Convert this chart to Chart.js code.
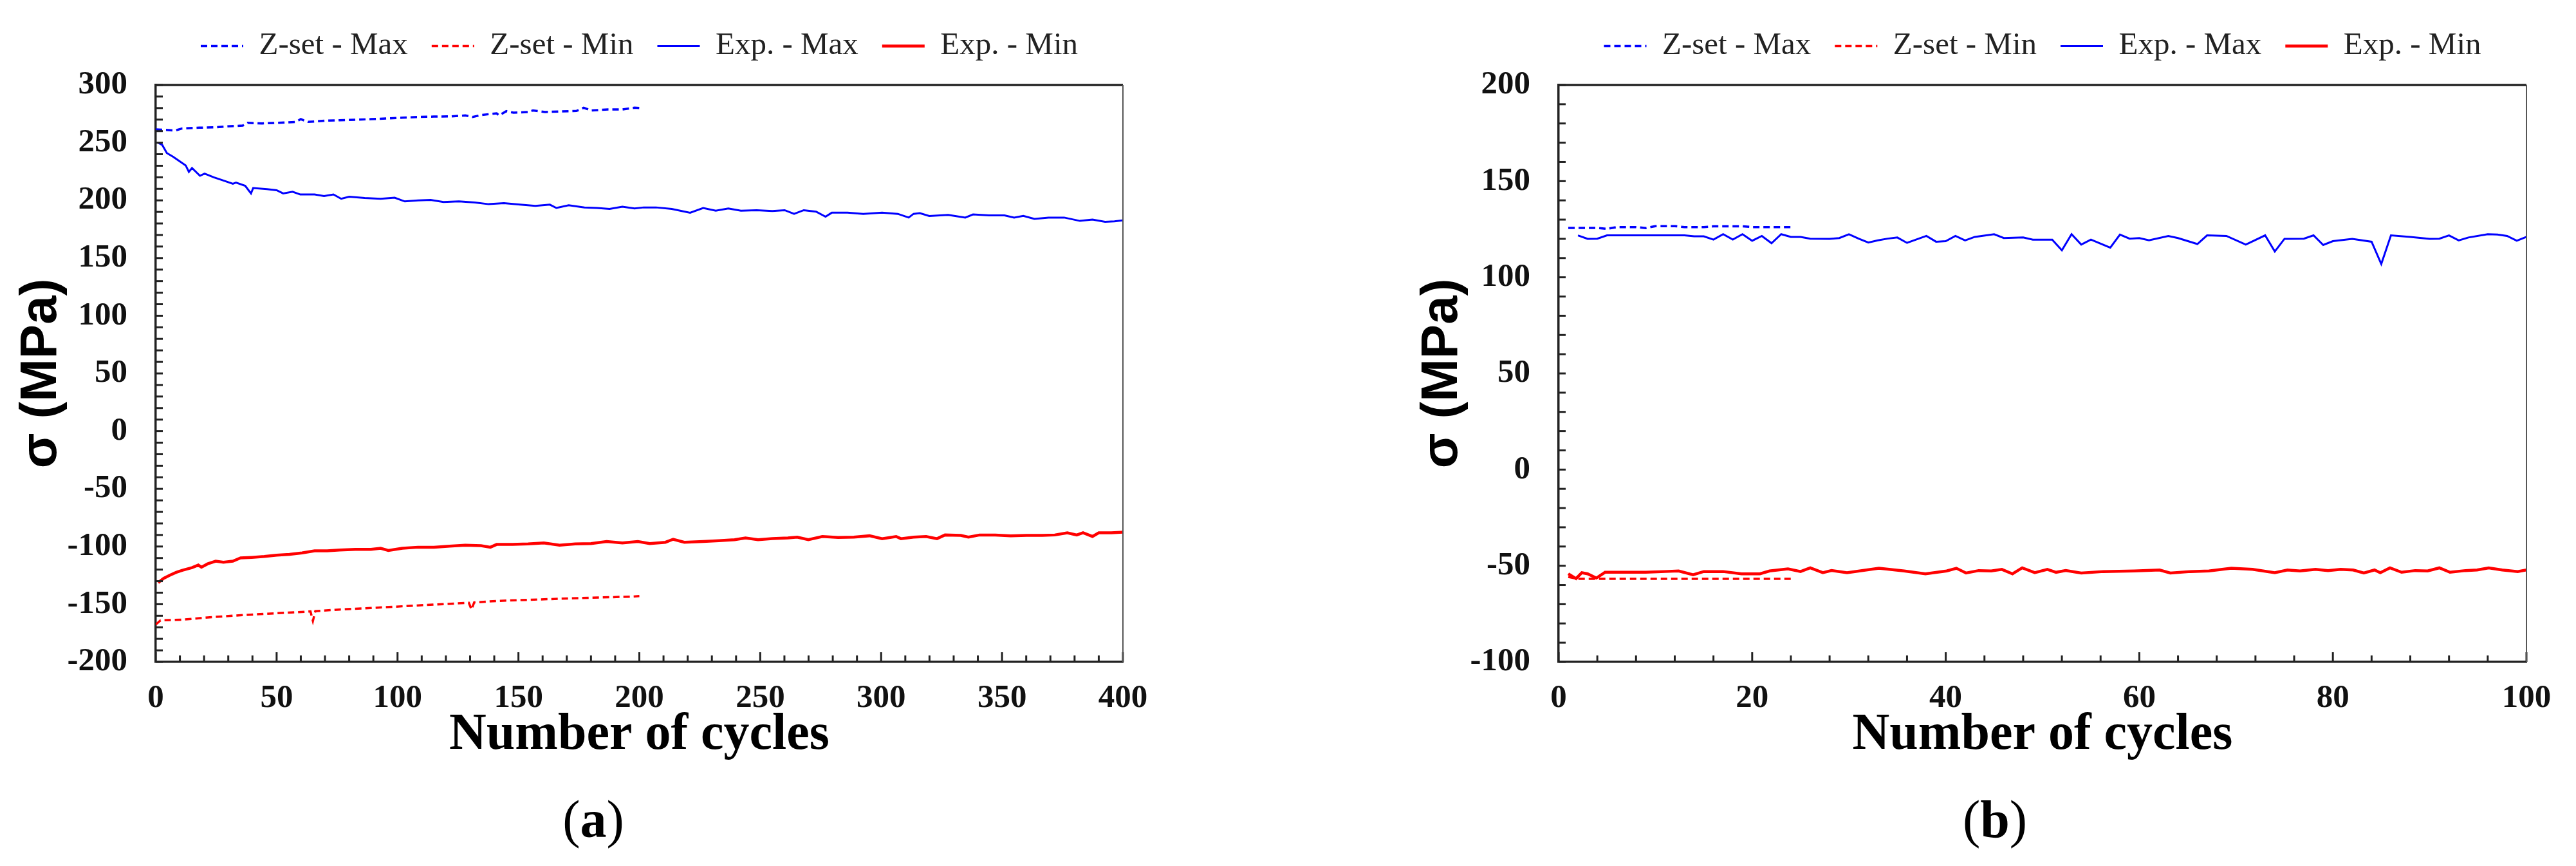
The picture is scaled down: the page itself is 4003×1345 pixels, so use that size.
<!DOCTYPE html>
<html>
<head>
<meta charset="utf-8">
<script src="https://cdn.jsdelivr.net/npm/chart.js@4.4.1/dist/chart.umd.min.js"></script>
<style>
  html, body { margin: 0; padding: 0; background: #fff; }
  body { width: 4003px; height: 1345px; position: relative; overflow: hidden; }
  canvas { position: absolute; top: 0; }
  #chartA { left: 0; }
  #chartB { left: 2000px; }
  .caption {
    position: absolute; top: 1232px;
    font: 82px 'Liberation Serif', serif; line-height: 1;
    transform: translateX(-50%); white-space: nowrap; color: #000;
  }
</style>
</head>
<body>
<canvas id="chartA" width="2000" height="1345"></canvas>
<canvas id="chartB" width="2003" height="1345"></canvas>
<div class="caption" style="left:922px">(<b>a</b>)</div>
<div class="caption" style="left:3100px">(<b>b</b>)</div>
<script>
// ---- (a) 400 cycles ----
const cyclesZsetMaxA = [0, 5, 8, 11, 18, 24, 31, 36, 38, 44, 50, 58, 60, 63, 70, 76, 83, 89, 96, 102, 109, 115, 122, 128, 131, 135, 141, 142, 145, 148, 154, 156, 161, 167, 174, 177, 180, 187, 193, 198, 200];
const zsetMaxA = [261.5, 261, 260.5, 262.4, 263, 263.3, 264.3, 264.8, 267.2, 266.7, 267.2, 268, 270.4, 268, 269, 269.5, 269.9, 270.4, 271, 271.7, 272.3, 272.6, 272.8, 273.6, 272.3, 274.1, 275.4, 273.6, 277.3, 276, 276.6, 277.9, 276.6, 277, 277.5, 280.3, 277.9, 278.8, 278.8, 280.3, 280];

const cyclesZsetMinA = [0, 2, 11, 24, 37, 50, 64, 65, 66, 76, 89, 102, 115, 129.5, 130.6, 131.7, 141, 154, 167, 180, 197, 200];
const zsetMinA = [-167.6, -164, -163.4, -161.1, -159.3, -157.8, -156.3, -164.5, -156, -154.6, -153.3, -151.8, -150.3, -148.8, -154.6, -148.5, -147.2, -146.2, -145.3, -144.4, -143.4, -143];

const cyclesExpMaxA = [1, 2.7, 4.6, 7.2, 9.8, 12.4, 13.7, 15, 18.3, 20.2, 24, 28, 31.9, 33.2, 37, 39.4, 40.3, 46, 50, 52.7, 56.6, 59.8, 65.7, 69.6, 73.5, 76.7, 80, 86.4, 93, 98.8, 103, 108.5, 113.7, 119, 125.4, 132, 137.7, 144, 150.7, 157, 163, 165.7, 170.8, 177.3, 182.5, 187.7, 193, 198, 201.8, 206.9, 213.4, 221, 226.4, 231.6, 236.8, 242, 248.5, 255, 260.1, 264, 268, 273.1, 277, 279.6, 286.1, 292.6, 300.4, 306.9, 311.4, 313.4, 316, 319.9, 327.7, 334.8, 338, 344.6, 351, 355, 358.8, 363.4, 369.2, 375.7, 382.2, 387.4, 392.6, 396.5, 400];
const expMaxA = [250, 248, 241, 237.8, 234, 230.3, 224.7, 228, 221.3, 223.2, 220, 217.2, 214.4, 215.4, 212.6, 206, 210.7, 209.8, 208.8, 206, 207.5, 205.1, 205.1, 203.8, 205.1, 201.4, 203.2, 202, 201.4, 202.3, 199.1, 200, 200.4, 198.6, 199.1, 198.2, 196.7, 197.6, 196.3, 195.2, 196.3, 193.4, 195.8, 193.9, 193.4, 192.6, 194.5, 193, 193.9, 193.9, 192.6, 189.3, 193.4, 191.1, 193, 191.1, 191.5, 190.7, 191.5, 188.3, 191.5, 190.2, 185.9, 189.3, 189.3, 188.3, 189.3, 188.3, 185.1, 188.3, 188.9, 186.5, 187.4, 185.1, 187.8, 187, 187, 185.1, 186.5, 184, 185.1, 185.1, 182.2, 183.3, 181.4, 181.8, 182.7];

const cyclesExpMinA = [1, 3.3, 5.9, 8.5, 11.1, 15, 17.6, 18.9, 21.5, 24.8, 28, 31.9, 35.1, 39.7, 44.9, 50, 55.3, 60.5, 65.7, 70.9, 76, 82.5, 89, 93, 96.2, 102, 108.5, 115, 121.5, 128, 134.5, 138.4, 141, 147.5, 154, 160.5, 167, 173.5, 180, 186.5, 193, 199.4, 204.3, 210.8, 214, 218.6, 226.4, 232.9, 239.4, 243.9, 249.1, 255, 261.4, 265.3, 269.9, 275.7, 282.2, 288.7, 295.2, 300.4, 306.2, 308.2, 313.4, 318.6, 323.1, 326.4, 332.9, 336.1, 340.7, 347.2, 353.6, 360.1, 366.6, 371.8, 377, 380.9, 383.5, 387.4, 390, 395.2, 400];
const expMinA = [-131.3, -127.6, -124.8, -122.4, -120.5, -118.3, -116.1, -117.9, -115, -112.7, -113.6, -112.7, -109.9, -109.4, -108.6, -107.5, -106.8, -105.6, -103.8, -103.8, -103, -102.5, -102.5, -101.5, -103.4, -101.5, -100.6, -100.6, -99.7, -98.8, -99.3, -100.6, -98.2, -98.2, -97.8, -96.9, -98.8, -97.8, -97.4, -95.6, -96.9, -95.6, -97.4, -96.3, -93.7, -96.3, -95.6, -95, -94.1, -92.6, -94.1, -93.2, -92.6, -91.9, -94.1, -91.3, -92.2, -91.9, -90.7, -93.2, -91.3, -93.2, -91.9, -91.3, -93.2, -90, -90.4, -91.9, -90, -90, -90.7, -90.4, -90.4, -90, -88.1, -90, -88.1, -91.3, -88.1, -88.1, -87.6];

const xTickLabelsA = [0, 50, 100, 150, 200, 250, 300, 350, 400];
const yTickLabelsA = [-200, -150, -100, -50, 0, 50, 100, 150, 200, 250, 300];

// ---- (b) 100 cycles ----
const cyclesZsetMaxB = [1, 2, 3, 4, 5, 6, 7, 8, 9, 10, 11, 12, 13, 14, 15, 16, 17, 18, 19, 20, 21, 22, 23, 24];
const zsetMaxB = [125.7, 125.7, 125.7, 125.7, 125.2, 126.1, 126.1, 126.1, 125.6, 126.6, 126.6, 126.6, 126.1, 126.1, 126.1, 126.5, 126.5, 126.5, 126.5, 126.1, 126.1, 126.1, 126.1, 126.1];

const cyclesZsetMinB = [1, 2, 3, 4, 5, 6, 7, 8, 9, 10, 11, 12, 13, 14, 15, 16, 17, 18, 19, 20, 21, 22, 23, 24];
const zsetMinB = [-55.8, -56.8, -56.8, -56.8, -56.8, -56.8, -56.8, -56.8, -56.8, -56.8, -56.8, -56.8, -56.8, -56.8, -56.8, -56.8, -56.8, -56.8, -56.8, -56.8, -56.8, -56.8, -56.8, -56.8];

const cyclesExpMaxB = [2, 3, 4, 5, 8, 13, 14, 15, 16, 17, 18, 19, 20, 21, 22, 23, 24, 25, 26, 28, 29, 30, 31, 32, 33, 34, 35, 36, 38, 39, 40, 41, 42, 43, 45, 46, 48, 49, 51, 52, 53, 54, 55, 57, 58, 59, 60, 61, 63, 64, 66, 67, 69, 71, 73, 74, 75, 77, 78, 79, 80, 82, 84, 85, 86, 88, 90, 91, 92, 93, 94, 96, 97, 98, 99, 100];
const expMaxB = [121.8, 120, 120.1, 121.8, 121.8, 121.8, 121.3, 121.3, 119.6, 122.4, 119.6, 122.4, 119, 121.5, 117.7, 122.4, 121, 121, 120.1, 120, 120.4, 122.4, 120.1, 118.1, 119.2, 120.1, 120.7, 117.9, 121.5, 118.5, 118.8, 121.5, 119.2, 121, 122.4, 120.4, 120.7, 119.6, 119.6, 114, 122.4, 117, 119.6, 115.4, 122.2, 120.1, 120.4, 119.2, 121.5, 120.4, 117.3, 121.8, 121.5, 117, 121.8, 113.4, 120, 120.1, 121.8, 116.8, 118.8, 120, 118.5, 106.9, 121.8, 121, 120, 120.1, 121.8, 119.2, 120.7, 122.4, 122.2, 121.5, 119, 121];

const cyclesExpMinB = [1, 1.8, 2.4, 3, 3.9, 4.8, 7, 9, 11, 12.4, 13.9, 15, 17, 18.9, 20.8, 21.8, 23.7, 25, 26, 27.3, 28.2, 29.8, 33.1, 35.7, 37.9, 40.1, 41.1, 42.1, 43.4, 44.7, 45.8, 46.9, 47.9, 49.2, 50.5, 51.4, 52.4, 54, 56.3, 59.5, 62.1, 63.2, 65.3, 67.2, 69.5, 71.7, 74, 75.3, 76.6, 78.2, 79.5, 80.8, 82.1, 83.2, 84.3, 84.9, 85.9, 87.1, 88.5, 89.8, 91, 92.1, 93.7, 94.9, 96.1, 97.5, 99.1, 100];
const expMinB = [-54.2, -56.7, -53.6, -54.2, -56.4, -53.4, -53.4, -53.4, -53, -52.7, -54.7, -53, -53, -54.2, -54.2, -52.7, -51.6, -53, -51.1, -53.6, -52.5, -53.6, -51.3, -52.7, -54.2, -52.7, -51.3, -53.8, -52.5, -52.7, -51.9, -54.2, -51.1, -53.6, -51.9, -53.4, -52.5, -53.8, -53, -52.7, -52.2, -53.8, -53, -52.7, -51.3, -51.9, -53.6, -52.2, -52.7, -51.9, -52.5, -51.9, -52.2, -53.8, -52.2, -53.6, -51.1, -53.4, -52.5, -52.7, -51.1, -53.4, -52.5, -52.2, -51.1, -52.2, -53, -52.2];

const xTickLabelsB = [0, 20, 40, 60, 80, 100];
const yTickLabelsB = [-100, -50, 0, 50, 100, 150, 200];

const BLUE = '#0000ff';
const RED = '#ff0000';
const LEGEND_GAP = 26;

Chart.defaults.font.family = "'Liberation Serif', 'Times New Roman', serif";
Chart.defaults.color = '#111';

function toPoints(xs, ys) {
    return xs.map((x, i) => ({ x: x, y: ys[i] }));
}

// extra room between the legend and the plot
const legendGap = {
    id: 'legendGap',
    beforeInit(chart) {
        const legend = chart.legend;
        const fit = legend.fit;
        legend.fit = function () {
            fit.call(this);
            this.height += LEGEND_GAP;
        };
    }
};

// inward tick marks + top/right frame
const innerTicks = {
    id: 'innerTicks',
    afterDraw(chart) {
        const ctx = chart.ctx;
        const a = chart.chartArea;
        const xs = chart.scales.x;
        const ys = chart.scales.y;
        ctx.save();
        ctx.strokeStyle = '#222';
        ctx.lineWidth = 3;
        xs.ticks.forEach(t => {
            const px = xs.getPixelForValue(t.value);
            const len = t.label !== '' ? 15 : 10;
            ctx.beginPath();
            ctx.moveTo(px, a.bottom);
            ctx.lineTo(px, a.bottom - len);
            ctx.stroke();
        });
        ys.ticks.forEach(t => {
            const py = ys.getPixelForValue(t.value);
            ctx.beginPath();
            ctx.moveTo(a.left, py);
            ctx.lineTo(a.left + 11, py);
            ctx.stroke();
        });
        ctx.lineWidth = 3.5;
        ctx.beginPath();
        ctx.moveTo(a.left, a.top);
        ctx.lineTo(a.right, a.top);
        ctx.stroke();
        ctx.lineWidth = 2;
        ctx.strokeStyle = '#555';
        ctx.beginPath();
        ctx.moveTo(a.right, a.top);
        ctx.lineTo(a.right, a.bottom);
        ctx.stroke();
        ctx.restore();
    }
};

function makeDatasets(zMax, zMin, eMax, eMin) {
    return [
        { label: 'Z-set - Max', data: zMax, borderColor: BLUE, backgroundColor: BLUE, borderWidth: 3.5, borderDash: [10, 6] },
        { label: 'Z-set - Min', data: zMin, borderColor: RED, backgroundColor: RED, borderWidth: 3.5, borderDash: [10, 6] },
        { label: 'Exp. - Max', data: eMax, borderColor: BLUE, backgroundColor: BLUE, borderWidth: 3 },
        { label: 'Exp. - Min', data: eMin, borderColor: RED, backgroundColor: RED, borderWidth: 4.5 }
    ];
}

// legend samples: short line in each dataset's own colour, width and dash
function legendLabels(chart) {
    return chart.data.datasets.map((ds, i) => ({
        text: ds.label,
        fillStyle: ds.borderColor,
        strokeStyle: ds.borderColor,
        lineWidth: ds.borderWidth,
        lineDash: ds.borderDash || [],
        pointStyle: 'line',
        fontColor: '#222',
        hidden: false,
        datasetIndex: i
    }));
}

function makeChart(id, datasets, xr, yr, pad, yWidth) {
    return new Chart(document.getElementById(id), {
        type: 'line',
        data: { datasets: datasets },
        options: {
            responsive: false,
            animation: false,
            elements: { point: { radius: 0 }, line: { tension: 0 } },
            layout: { padding: pad },
            plugins: {
                tooltip: { enabled: false },
                legend: {
                    position: 'top',
                    fullSize: false,
                    labels: {
                        usePointStyle: true,
                        pointStyle: 'line',
                        pointStyleWidth: 66,
                        padding: 37,
                        color: '#222',
                        font: { size: 49 },
                        generateLabels: legendLabels
                    }
                }
            },
            scales: {
                x: {
                    type: 'linear',
                    min: xr.min, max: xr.max,
                    afterFit: s => { s.height = 162; },
                    grid: { display: false, drawTicks: false },
                    border: { display: true, width: 3.5, color: '#222' },
                    ticks: {
                        stepSize: xr.step, autoSkip: false, maxRotation: 0, minRotation: 0,
                        padding: 26, color: '#111',
                        font: { size: 51, weight: 'bold', lineHeight: 1.2 },
                        callback: v => xr.labels.includes(v) ? v : ''
                    },
                    title: {
                        display: true, text: 'Number of cycles', color: '#000', padding: 0,
                        font: { size: 80, weight: 'bold', lineHeight: 1.2 }
                    }
                },
                y: {
                    min: yr.min, max: yr.max,
                    afterFit: s => { s.width = yWidth; },
                    grid: { display: false, drawTicks: false },
                    border: { display: true, width: 3.5, color: '#222' },
                    ticks: {
                        stepSize: 10, autoSkip: false, padding: 44, color: '#111',
                        font: { size: 51, weight: 'bold', lineHeight: 1.2 },
                        callback: v => yr.labels.includes(v) ? v : ''
                    },
                    title: {
                        display: true, text: 'σ (MPa)', color: '#000', padding: { top: 25, bottom: 0 },
                        font: { family: "'Liberation Sans', Arial, sans-serif", size: 80, weight: 'bold', lineHeight: 1 }
                    }
                }
            }
        },
        plugins: [legendGap, innerTicks]
    });
}

makeChart('chartA',
    makeDatasets(
        toPoints(cyclesZsetMaxA, zsetMaxA),
        toPoints(cyclesZsetMinA, zsetMinA),
        toPoints(cyclesExpMaxA, expMaxA),
        toPoints(cyclesExpMinA, expMinA)),
    { min: 0, max: 400, step: 10, labels: xTickLabelsA },
    { min: -200, max: 300, labels: yTickLabelsA },
    { left: 0, right: 255, top: 10, bottom: 155 },
    242);

makeChart('chartB',
    makeDatasets(
        toPoints(cyclesZsetMaxB, zsetMaxB),
        toPoints(cyclesZsetMinB, zsetMinB),
        toPoints(cyclesExpMaxB, expMaxB),
        toPoints(cyclesExpMinB, expMinB)),
    { min: 0, max: 100, step: 4, labels: xTickLabelsB },
    { min: -100, max: 200, labels: yTickLabelsB },
    { left: 177, right: 77, top: 10, bottom: 155 },
    245);
</script>
</body>
</html>
